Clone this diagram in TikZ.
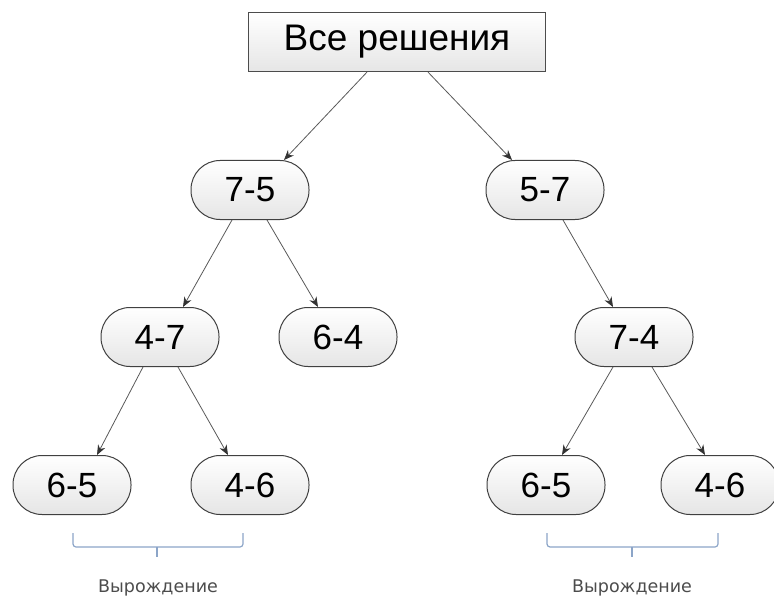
\documentclass[tikz,border=0pt]{standalone}
\usepackage{fontspec}
\setmainfont{Liberation Sans}
\newfontfamily\notefont{DejaVu Sans}
\usetikzlibrary{arrows.meta}
\definecolor{bracecol}{RGB}{140,165,200}

\begin{document}
\begin{tikzpicture}[x=1pt,y=-1pt,>={Stealth[length=10pt,width=8pt,color=black!80]},
    root/.style={draw=black!70,line width=1.2pt,top color=white,bottom color=black!10,
      minimum width=297pt,minimum height=59pt,inner sep=0pt,font=\fontsize{37}{42}\selectfont},
    pill/.style={draw=black!75,line width=1pt,rounded corners=29pt,top color=white,bottom color=black!10,
      minimum width=118pt,minimum height=59pt,inner sep=0pt,font=\fontsize{35}{40}\selectfont},
    link/.style={->,draw=black!65,line width=0.8pt},
    brace/.style={draw=bracecol,line width=1.2pt,rounded corners=3pt},
    note/.style={font=\notefont\fontsize{17.5}{20}\selectfont,text=black!70}]
    \useasboundingbox (0,0) rectangle (774,599);

    % tree
    \node[root] (all) at (397,42) {Все решения};
    \node[pill] (a) at (250,190) {7-5};
    \node[pill] (b) at (545,190) {5-7};
    \node[pill] (c) at (160,337) {4-7};
    \node[pill] (d) at (338,337) {6-4};
    \node[pill] (e) at (634,337) {7-4};
    \node[pill] (f) at (72,485) {6-5};
    \node[pill] (g) at (250,485) {4-6};
    \node[pill] (h) at (546,485) {6-5};
    \node[pill] (i) at (720,485) {4-6};

    \draw[link] ([xshift=-30pt]all.south) -- ([xshift=34pt]a.north);
    \draw[link] ([xshift=31pt]all.south) -- ([xshift=-33pt]b.north);
    \draw[link] ([xshift=-18pt]a.south) -- ([xshift=23pt]c.north);
    \draw[link] ([xshift=17pt]a.south) -- ([xshift=-20pt]d.north);
    \draw[link] ([xshift=18pt]b.south) -- ([xshift=-21pt]e.north);
    \draw[link] ([xshift=-17pt]c.south) -- ([xshift=25pt]f.north);
    \draw[link] ([xshift=18pt]c.south) -- ([xshift=-22pt]g.north);
    \draw[link] ([xshift=-21pt]e.south) -- ([xshift=16pt]h.north);
    \draw[link] ([xshift=18pt]e.south) -- ([xshift=-15pt]i.north);

    % braces under the repeated pairs
    \coordinate (lb) at (157,557);
    \coordinate (rb) at (632,557);
    \draw[brace] (73,533) -- (73,547) -- (243,547) -- (243,533);
    \draw[brace] (157,547) -- (lb);
    \draw[brace] (547,533) -- (547,547) -- (718,547) -- (718,533);
    \draw[brace] (632,547) -- (rb);

    \node[note] (ln) at (158,588) {Вырождение};
    \node[note] (rn) at (632,588) {Вырождение};
\end{tikzpicture}
\end{document}
